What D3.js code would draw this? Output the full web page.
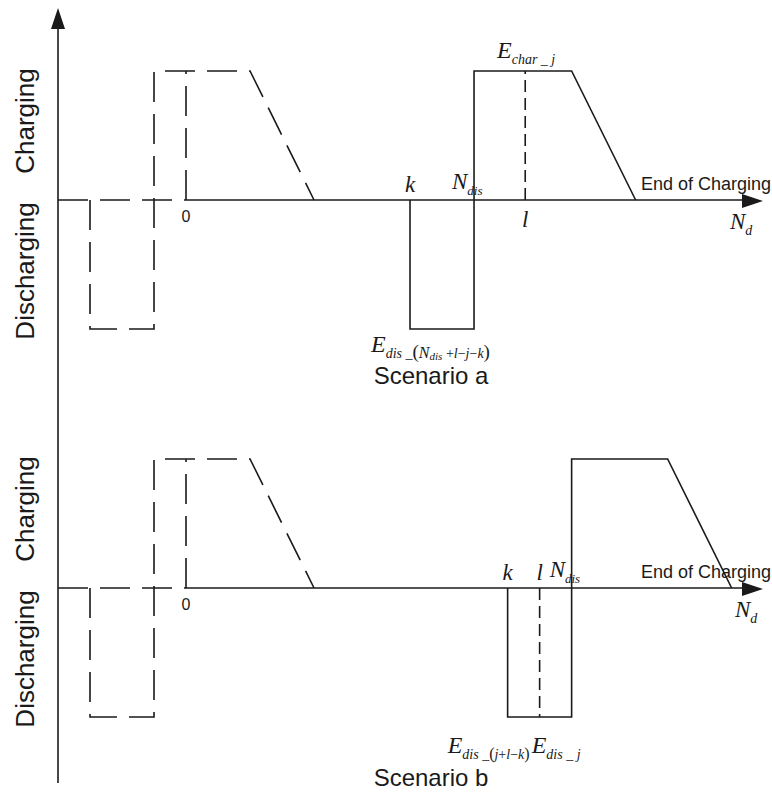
<!DOCTYPE html>
<html>
<head>
<meta charset="utf-8">
<script src="https://cdn.jsdelivr.net/npm/d3@7"></script>
<style>
  html, body { margin: 0; padding: 0; background: #fff; }
  svg { display: block; }
</style>
</head>
<body>
<svg id="chart" width="772" height="798"></svg>
<script>
// Positions along the day axis (abstract slot units, 0 = start of the day)
const scenarios      = ["Scenario a", "Scenario b"];
const prevDischarge  = [-6, -2];      // previous cycle discharge interval
const prevCharge     = [-2, 4, 8];    // previous cycle charge: start, plateau end, ramp end
const kPos           = [14, 20.1];    // start of discharging, k
const nDisPos        = [18, 24.1];    // end of discharging, N_dis
const lPos           = [21.2, 22.1];  // slot l
const plateauEnd     = [24.1, 30.1];  // end of full-power charging
const chargeEnd      = [28.1, 34.1];  // end of charging
const levels         = { charge: 1, discharge: -1 };
const axisDomain     = [-8, 36.06];

const svg = d3.select("#chart");
const ink = "#1a1a1a";

const x = d3.scaleLinear().domain(axisDomain).range([58, 763]);
const baselines = [201, 589];

// vertical axis with arrow
svg.append("line").attr("x1", 58).attr("x2", 58).attr("y1", 783).attr("y2", 24)
  .attr("stroke", ink).attr("stroke-width", 1.6);
svg.append("path").attr("d", "M58,8 L51,29 L65,29 Z").attr("fill", ink);

const sans = "'Liberation Sans', Arial, sans-serif";
const serif = "'Liberation Serif', 'Times New Roman', serif";

// text made of runs: [text, size, dy, italic]
function richText(g, px, py, runs, anchor) {
  const t = g.append("text").attr("x", px).attr("y", py)
    .attr("font-family", serif).attr("fill", ink)
    .attr("text-anchor", anchor || "start");
  runs.forEach(r => {
    t.append("tspan").text(r[0]).attr("font-size", r[1])
      .attr("dy", r[2]).attr("font-style", r[3] ? "italic" : "normal");
  });
  return t;
}

function applyStyle(sel, style) {
  Object.entries(style).forEach(([k, v]) => sel.attr(k, v));
  return sel;
}

scenarios.forEach((name, i) => {
  const b = baselines[i];
  const y = d3.scaleLinear().domain([-1, 1]).range([b + 128, b - 130]);
  const line = d3.line().x(d => x(d[0])).y(d => y(d[1]));
  const g = svg.append("g");

  // side labels
  g.append("text").attr("transform", `translate(34,${b - 80}) rotate(-90)`)
    .attr("text-anchor", "middle").attr("font-family", sans).attr("font-size", 26)
    .attr("fill", ink).text("Charging");
  g.append("text").attr("transform", `translate(34,${b + 70}) rotate(-90)`)
    .attr("text-anchor", "middle").attr("font-family", sans).attr("font-size", 26)
    .attr("fill", ink).text("Discharging");

  // previous-cycle profile (dashed)
  const dashed = { stroke: ink, "stroke-width": 1.6, fill: "none", "stroke-dasharray": "30,12" };
  const prevPath = [
    [prevDischarge[0], 0], [prevDischarge[0], levels.discharge],
    [prevDischarge[1], levels.discharge], [prevCharge[0], levels.charge],
    [prevCharge[1], levels.charge], [prevCharge[2], 0]
  ];
  applyStyle(g.append("path").attr("d", line(prevPath)), dashed);
  applyStyle(g.append("path").attr("d", line([[0, 0], [0, levels.charge]])), dashed);
  applyStyle(g.append("path").attr("d", line([[axisDomain[0], 0], [0, 0]])), dashed);

  // day axis with arrow
  g.append("path").attr("d", line([[0, 0], [axisDomain[1] - 1.2, 0]]))
    .attr("stroke", ink).attr("stroke-width", 1.6).attr("fill", "none");
  const tip = x(axisDomain[1]);
  g.append("path").attr("d", `M${tip},${b} L${tip - 21},${b - 7} L${tip - 21},${b + 7} Z`).attr("fill", ink);

  // current profile: discharge block then charge trapezoid
  const cur = [
    [kPos[i], 0], [kPos[i], levels.discharge], [nDisPos[i], levels.discharge],
    [nDisPos[i], levels.charge], [plateauEnd[i], levels.charge], [chargeEnd[i], 0]
  ];
  g.append("path").attr("d", line(cur)).attr("stroke", ink).attr("stroke-width", 1.6)
    .attr("fill", "none").attr("stroke-linejoin", "miter");

  // slot l marker
  const lLevel = lPos[i] > nDisPos[i] ? levels.charge : levels.discharge;
  g.append("path").attr("d", line([[lPos[i], 0], [lPos[i], lLevel]]))
    .attr("stroke", ink).attr("stroke-width", 1.6).attr("fill", "none")
    .attr("stroke-dasharray", "12,6");

  // axis labels
  g.append("text").attr("x", x(0)).attr("y", b + 21).attr("text-anchor", "middle")
    .attr("font-family", sans).attr("font-size", 16).attr("fill", ink).text("0");
  g.append("text").attr("x", x(axisDomain[1]) - 122).attr("y", b - 11)
    .attr("font-family", sans).attr("font-size", 18).attr("fill", ink).text("End of Charging");
  richText(g, x(kPos[i]), b - 9, [["k", 23, 0, true]], "middle");
  richText(g, x(nDisPos[i]) - 22, b - 12, [["N", 23, 0, true], ["dis", 13, 6, true]]);
  if (i === 0) {
    richText(g, x(lPos[i]), b + 26, [["l", 23, 0, true]], "middle");
    richText(g, x(axisDomain[1]) - 33, b + 28, [["N", 23, 0, true], ["d", 14, 6, true]]);
    richText(g, x(nDisPos[i]) + 23, b - 143, [["E", 24, 0, true], ["char", 14, 6, true], [" _ ", 14, 0, false], ["j", 14, 0, true]]);
    richText(g, x(kPos[i]) - 39, b + 151, [
      ["E", 24, 0, true], ["dis", 14, 6, true], [" _", 14, 0, false], ["(", 19, 0, false],
      ["N", 16, 0, true], ["dis", 11, 2, true], [" +", 14, -2, false], ["l", 14, 0, true],
      ["\u2212", 14, 0, false], ["j", 14, 0, true], ["\u2212", 14, 0, false], ["k", 14, 0, true],
      [")", 19, 0, false]
    ]);
  } else {
    richText(g, x(lPos[i]), b - 9, [["l", 23, 0, true]], "middle");
    richText(g, x(axisDomain[1]) - 28, b + 28, [["N", 23, 0, true], ["d", 14, 6, true]]);
    richText(g, x(kPos[i]) - 60, b + 164, [
      ["E", 24, 0, true], ["dis", 14, 6, true], [" _", 14, 0, false], ["(", 16, 0, false],
      ["j", 14, 0, true], ["+", 14, 0, false], ["l", 14, 0, true], ["\u2212", 14, 0, false],
      ["k", 14, 0, true], [")", 16, 0, false]
    ]);
    richText(g, x(kPos[i]) + 24, b + 164, [["E", 24, 0, true], ["dis", 14, 6, true], [" _ ", 14, 0, false], ["j", 14, 0, true]]);
  }

  // scenario caption
  g.append("text").attr("x", 431).attr("y", i === 0 ? 384 : 786).attr("text-anchor", "middle")
    .attr("font-family", sans).attr("font-size", 24).attr("fill", ink).text(name);
});
</script>
</body>
</html>
